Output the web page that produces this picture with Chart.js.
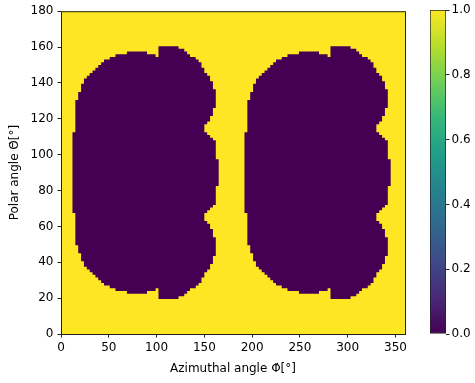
<!DOCTYPE html>
<html>
<head>
<meta charset="utf-8">
<script src="https://cdn.jsdelivr.net/npm/chart.js@4.4.1/dist/chart.umd.min.js"></script>
<style>
  html, body { margin: 0; padding: 0; background: #fff; }
  #wrap { position: relative; width: 475px; height: 383px; }
  #mapChart { position: absolute; left: 0; top: 0; }
  #barChart { position: absolute; left: 410px; top: 0; }
</style>
</head>
<body>
<div id="wrap">
  <canvas id="mapChart" width="410" height="383"></canvas>
  <canvas id="barChart" width="65" height="383"></canvas>
</div>
<script>
// angular extent of the map, degrees
const phiExtent = [0, 360];
const thetaExtent = [0, 180];
const phiTicks = [0, 50, 100, 150, 200, 250, 300, 350];
const thetaTicks = [0, 20, 40, 60, 80, 100, 120, 140, 160, 180];
const levelTicks = [0, 0.2, 0.4, 0.6, 0.8, 1.0];

// map value inside the lobes and everywhere else
const insideValue = 0;
const outsideValue = 1;

// upper half of one lobe (theta >= 90): from the left edge at the equator,
// over the top and back down the right edge. 3 deg x 1.5 deg cells.
const outlinePhi = [
  12, 12, 15, 15, 18, 18, 21, 21, 24, 24, 27, 27, 30, 30, 33, 33, 36, 36, 39, 39,
  42, 42, 45, 45, 51, 51, 57, 57, 69, 69, 90, 90, 99, 99, 102, 102, 123, 123, 129, 129,
  132, 132, 135, 135, 141, 141, 144, 144, 147, 147, 150, 150, 153, 153, 156, 156, 159, 159, 162, 162,
  159, 159, 156, 156, 153, 153, 150, 150, 153, 153, 156, 156, 159, 159, 162, 162, 165, 165
];
const outlineTheta = [
  90, 112.5, 112.5, 130.5, 130.5, 135, 135, 139.5, 139.5, 142.5, 142.5, 144, 144, 145.5, 145.5, 147, 147, 148.5, 148.5, 150,
  150, 151.5, 151.5, 153, 153, 154.5, 154.5, 156, 156, 157.5, 157.5, 156, 156, 154.5, 154.5, 160.5, 160.5, 159, 159, 157.5,
  157.5, 156, 156, 154.5, 154.5, 153, 153, 151.5, 151.5, 148.5, 148.5, 145.5, 145.5, 144, 144, 141, 141, 136.5, 136.5, 126,
  126, 121.5, 121.5, 118.5, 118.5, 117, 117, 112.5, 112.5, 111, 111, 109.5, 109.5, 108, 108, 97.5, 97.5, 90
];
// the second lobe sits half a turn further round
const lobeOffsets = [0, 180];

const viridis = ['#440154', '#482878', '#3e4989', '#31688e', '#26828e',
                 '#1f9e89', '#35b779', '#6ece58', '#b5de2b', '#fde725'];

Chart.defaults.font.family = "'DejaVu Sans', sans-serif";
Chart.defaults.font.size = 12;
Chart.defaults.color = '#000';

function viridisAt(v) {
  return viridis[Math.round(v * (viridis.length - 1))];
}

function viridisGradient(chart) {
  const { ctx, chartArea, scales } = chart;
  if (!chartArea) return viridis[0];
  const g = ctx.createLinearGradient(0, scales.y.getPixelForValue(0), 0, scales.y.getPixelForValue(1));
  viridis.forEach((c, i) => g.addColorStop(i / (viridis.length - 1), c));
  return g;
}

function lobeOutline(offset) {
  const pts = outlinePhi.map((phi, i) => ({ x: phi + offset, y: outlineTheta[i] }));
  // lower half mirrors the upper one about theta = 90
  for (let i = outlinePhi.length - 2; i > 0; i--) {
    pts.push({ x: outlinePhi[i] + offset, y: thetaExtent[1] - outlineTheta[i] });
  }
  return pts;
}

// background of the map and the box around it
const mapFrame = {
  id: 'mapFrame',
  beforeDatasetsDraw(chart) {
    const { ctx, scales: { x, y } } = chart;
    const left = x.getPixelForValue(phiExtent[0]);
    const right = x.getPixelForValue(phiExtent[1]);
    const top = y.getPixelForValue(thetaExtent[1]);
    const bottom = y.getPixelForValue(thetaExtent[0]);
    ctx.save();
    ctx.fillStyle = viridisAt(outsideValue);
    ctx.fillRect(left, top, right - left, bottom - top);
    ctx.restore();
  },
  afterDraw(chart) {
    const { ctx, chartArea: a } = chart;
    ctx.save();
    ctx.strokeStyle = '#222';
    ctx.lineWidth = 1;
    ctx.strokeRect(a.left + 0.5, a.top + 0.5, a.right - a.left, a.bottom - a.top);
    ctx.restore();
  }
};

new Chart(document.getElementById('mapChart'), {
  type: 'line',
  data: {
    datasets: lobeOffsets.map(off => ({
      data: lobeOutline(off),
      fill: 'shape',
      backgroundColor: viridisAt(insideValue),
      borderWidth: 0,
      pointRadius: 0,
      tension: 0
    }))
  },
  options: {
    responsive: false,
    animation: false,
    events: [],
    layout: { padding: { top: 10, right: 3, bottom: 0, left: 0 } },
    plugins: { legend: { display: false }, tooltip: { enabled: false } },
    scales: {
      x: {
        type: 'linear',
        min: phiExtent[0],
        max: phiExtent[1],
        afterBuildTicks: axis => { axis.ticks = phiTicks.map(value => ({ value })); },
        afterFit: axis => { axis.height = 49; },
        border: { display: false },
        grid: { drawOnChartArea: false, tickLength: 3.5, tickColor: '#222' },
        ticks: { padding: 3, maxRotation: 0, autoSkip: false },
        title: {
          display: true,
          text: 'Azimuthal angle \u03a6\u0307[°]',
          padding: { top: 0, bottom: 6.5 }
        }
      },
      y: {
        type: 'linear',
        min: thetaExtent[0],
        max: thetaExtent[1],
        afterBuildTicks: axis => { axis.ticks = thetaTicks.map(value => ({ value })); },
        afterFit: axis => { axis.width = 61; },
        border: { display: false },
        grid: { drawOnChartArea: false, tickLength: 3.5, tickColor: '#222' },
        ticks: { padding: 4, autoSkip: false },
        title: {
          display: true,
          text: 'Polar angle \u0398\u0307[°]',
          padding: { top: 7.5, bottom: 0 }
        }
      }
    }
  },
  plugins: [mapFrame]
});

// colour bar
new Chart(document.getElementById('barChart'), {
  type: 'bar',
  data: {
    labels: [''],
    datasets: [{
      data: [[insideValue, outsideValue]],
      backgroundColor: c => viridisGradient(c.chart),
      borderColor: '#222',
      borderWidth: 1,
      borderSkipped: false,
      barPercentage: 1,
      categoryPercentage: 1
    }]
  },
  options: {
    responsive: false,
    animation: false,
    events: [],
    layout: { padding: { top: 10, bottom: 49, left: 20, right: 0 } },
    plugins: { legend: { display: false }, tooltip: { enabled: false } },
    scales: {
      x: { display: false },
      y: {
        position: 'right',
        min: 0,
        max: 1,
        afterBuildTicks: axis => { axis.ticks = levelTicks.map(value => ({ value })); },
        afterFit: axis => { axis.width = 29; },
        border: { display: false },
        grid: { drawOnChartArea: false, tickLength: 3.5, tickColor: '#222' },
        ticks: { padding: 2, callback: v => v.toFixed(1) }
      }
    }
  }
});
</script>
</body>
</html>
